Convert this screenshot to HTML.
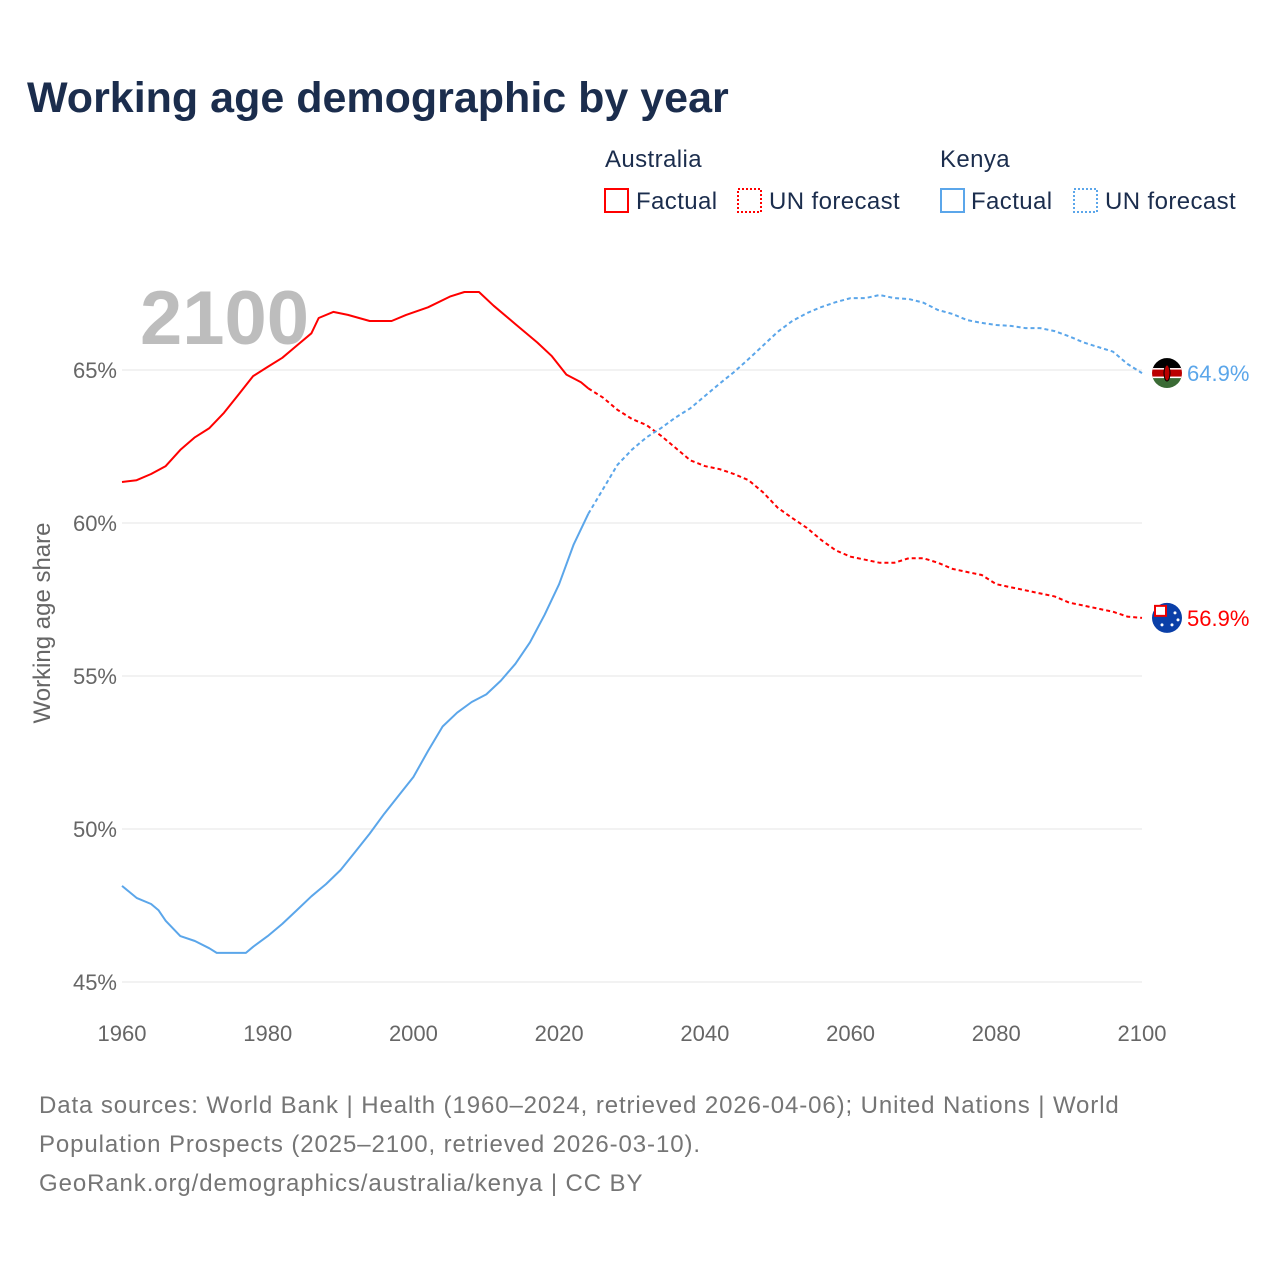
<!DOCTYPE html>
<html><head><meta charset="utf-8"><style>
body{margin:0;background:#fff;font-family:"Liberation Sans",sans-serif}
#wrap{position:relative;width:1280px;height:1280px;overflow:hidden}
</style></head><body><div id="wrap">
<svg id="svg" width="1280" height="1280" xmlns="http://www.w3.org/2000/svg" font-family="Liberation Sans, sans-serif">
<text x="27" y="112" font-size="43" font-weight="bold" fill="#1b2d4d">Working age demographic by year</text>
<g font-size="24" fill="#1b2d4d" letter-spacing="0.4">
<text x="605" y="167">Australia</text>
<text x="940" y="167">Kenya</text>
<g><rect x="605" y="189" width="23" height="23" fill="none" stroke="#f00" stroke-width="2"/><text x="636" y="209">Factual</text></g>
<g><rect x="738" y="189" width="23" height="23" fill="none" stroke="#f00" stroke-width="2" stroke-dasharray="2,2"/><text x="769" y="209">UN forecast</text></g>
<g><rect x="941" y="189" width="23" height="23" fill="none" stroke="#5ba6ea" stroke-width="2"/><text x="971" y="209">Factual</text></g>
<g><rect x="1074" y="189" width="23" height="23" fill="none" stroke="#5ba6ea" stroke-width="2" stroke-dasharray="2,2"/><text x="1105" y="209">UN forecast</text></g>
</g>
<text x="140" y="344" font-size="76" font-weight="bold" fill="#bdbdbd">2100</text>
<text transform="translate(50,623) rotate(-90)" text-anchor="middle" font-size="24" fill="#666">Working age share</text>
<g id="grid"></g><g id="lines"></g><g id="labels"></g>
<g font-size="24" fill="#757575" letter-spacing="0.9">
<text x="39" y="1113">Data sources: World Bank | Health (1960–2024, retrieved 2026-04-06); United Nations | World</text>
<text x="39" y="1152">Population Prospects (2025–2100, retrieved 2026-03-10).</text>
<text x="39" y="1191">GeoRank.org/demographics/australia/kenya | CC BY</text>
</g>
</svg></div>
<script>
const yTicks=[45,50,55,60,65];
const xTicks=[1960,1980,2000,2020,2040,2060,2080,2100];
const auYears=[1960,1962,1964,1966,1968,1970,1972,1974,1976,1978,1980,1982,1984,1986,1987,1989,1991,1994,1997,1999,2002,2005,2007,2009,2011,2014,2017,2019,2021,2023,2024,2026,2028,2030,2032,2034,2036,2038,2040,2042,2044,2046,2048,2050,2052,2054,2056,2058,2060,2062,2064,2066,2068,2070,2072,2074,2076,2078,2080,2082,2084,2086,2088,2090,2092,2094,2096,2098,2100];
const auValues=[61.34,61.4,61.6,61.86,62.39,62.8,63.1,63.6,64.2,64.8,65.1,65.4,65.8,66.2,66.7,66.9,66.8,66.6,66.6,66.8,67.05,67.4,67.55,67.55,67.1,66.5,65.9,65.45,64.85,64.6,64.4,64.1,63.7,63.4,63.2,62.85,62.45,62.05,61.86,61.76,61.6,61.4,61.0,60.5,60.16,59.84,59.44,59.1,58.9,58.8,58.7,58.7,58.85,58.85,58.7,58.5,58.4,58.3,58.0,57.9,57.8,57.7,57.6,57.4,57.3,57.2,57.1,56.94,56.9];
const keYears=[1960,1962,1964,1965,1966,1968,1970,1972,1973,1977,1978,1980,1982,1984,1986,1988,1990,1992,1994,1996,1998,2000,2002,2004,2006,2008,2010,2012,2014,2016,2018,2020,2022,2024,2026,2028,2030,2032,2034,2036,2038,2040,2042,2044,2046,2048,2050,2052,2054,2056,2058,2060,2062,2064,2066,2068,2070,2072,2074,2076,2078,2080,2082,2084,2086,2088,2090,2092,2094,2096,2098,2100];
const keValues=[48.14,47.75,47.55,47.35,47.0,46.5,46.34,46.1,45.95,45.95,46.15,46.5,46.9,47.35,47.8,48.2,48.66,49.25,49.85,50.5,51.1,51.7,52.55,53.35,53.8,54.15,54.4,54.85,55.4,56.1,57.0,58.0,59.3,60.3,61.1,61.9,62.4,62.8,63.1,63.45,63.75,64.15,64.55,64.93,65.36,65.8,66.25,66.6,66.86,67.06,67.22,67.35,67.35,67.45,67.35,67.32,67.2,66.96,66.83,66.63,66.54,66.47,66.44,66.37,66.37,66.27,66.1,65.9,65.75,65.6,65.2,64.9];
const lastFactual=2024;
const xS=y=>122+(y-1960)*(1020/140);
const yS=v=>370+(65-v)*30.6;
const NS='http://www.w3.org/2000/svg';
function mk(t,a,p){const e=document.createElementNS(NS,t);for(const k in a)e.setAttribute(k,a[k]);p.appendChild(e);return e;}
const grid=document.getElementById('grid'),lines=document.getElementById('lines'),labels=document.getElementById('labels');
yTicks.forEach(v=>{
 const l=mk('line',{x1:122,x2:1142,y1:yS(v),y2:yS(v),stroke:'#e6e6e6','stroke-width':1},grid);
 
 
 const t=mk('text',{x:117,y:yS(v)+8,'text-anchor':'end','font-size':22,fill:'#666'},grid);t.textContent=v+'%';
 
 
});
xTicks.forEach(y=>{
 const t=mk('text',{x:xS(y),y:1041,'text-anchor':'middle','font-size':22,fill:'#666'},grid);t.textContent=y;
 
 
});
function series(ys,vs,color,name){
 const f=[],c=[];
 ys.forEach((y,i)=>{const p=xS(y).toFixed(1)+','+yS(vs[i]).toFixed(1);if(y<=lastFactual)f.push(p);if(y>=lastFactual)c.push(p);});
 const a=mk('polyline',{points:f.join(' '),fill:'none',stroke:color,'stroke-width':2,'stroke-linejoin':'round'},lines);
 
 
 const b=mk('polyline',{points:c.join(' '),fill:'none',stroke:color,'stroke-width':2,'stroke-dasharray':'4,3'},lines);
 
 
 const v=vs[vs.length-1],cy=yS(v);
 const t=mk('text',{x:1187,y:cy+8,'font-size':22,fill:color},labels);t.textContent=v.toFixed(1)+'%';
 
 
 return cy;
}
const auY=series(auYears,auValues,'#f00','australia');
const keY=series(keYears,keValues,'#5ba6ea','kenya');
const kf=mk('g',{},labels);


const cp=mk('clipPath',{id:'ck'},kf);
mk('circle',{cx:1167,cy:keY,r:15},cp);
const kg=mk('g',{'clip-path':'url(#ck)'},kf);
mk('rect',{x:1152,y:keY-15,width:30,height:10,fill:'#000'},kg);
mk('rect',{x:1152,y:keY-5,width:30,height:10,fill:'#b00'},kg);
mk('rect',{x:1152,y:keY+5,width:30,height:10,fill:'#3a6b35'},kg);
mk('rect',{x:1152,y:keY-5,width:30,height:1.5,fill:'#fff'},kg);
mk('rect',{x:1152,y:keY+3.5,width:30,height:1.5,fill:'#fff'},kg);
mk('ellipse',{cx:1167,cy:keY,rx:3,ry:8,fill:'#b00',stroke:'#000','stroke-width':1},kg);
const af=mk('g',{},labels);


mk('circle',{cx:1167,cy:auY,r:15,fill:'#0a3fa8'},af);
mk('rect',{x:1155,y:auY-12,width:11,height:10,fill:'#fff',stroke:'#e00','stroke-width':2},af);
[[1172,auY+7],[1175,auY-5],[1162,auY+7],[1178,auY+2]].forEach(p=>mk('circle',{cx:p[0],cy:p[1],r:1.5,fill:'#fff'},af));
</script></body></html>
